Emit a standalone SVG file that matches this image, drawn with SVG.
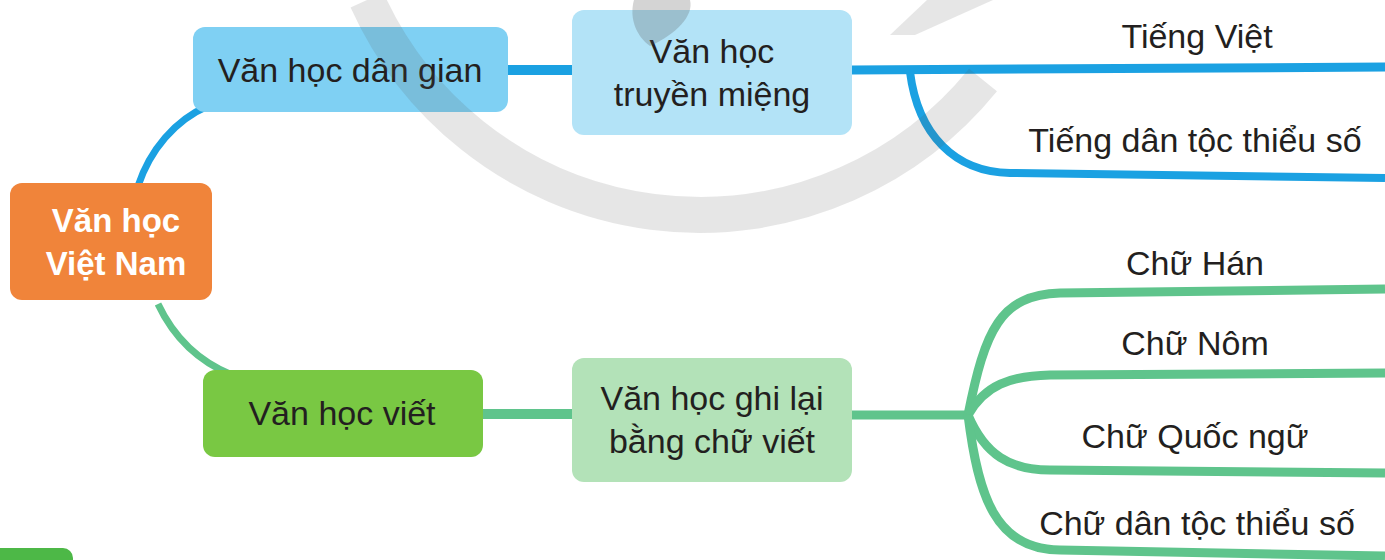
<svg xmlns="http://www.w3.org/2000/svg" width="1385" height="560" viewBox="0 0 1385 560">
<style>
.t{font-family:"Liberation Sans",Arial,sans-serif;font-size:34px;fill:#231f20;text-anchor:middle}
.root{font-family:"Liberation Sans",Arial,sans-serif;font-size:33px;font-weight:bold;fill:#ffffff;text-anchor:middle}
.b{fill:none;stroke:#1ba1e2;stroke-linecap:butt}
.g{fill:none;stroke:#5fc48c;stroke-linecap:butt}
</style>
<rect width="1385" height="560" fill="#ffffff"/>
<g id="connectors">
<path class="b" stroke-width="7" d="M138,186 C150,150 175,120 208,106"/>
<path class="b" stroke-width="10" d="M508,70 L572,70"/>
<path class="b" stroke-width="9" d="M852,70 L1385,67"/>
<path class="b" stroke-width="8" d="M910,72 C918,135 955,172 1010,173 L1385,178"/>
<path class="g" stroke-width="7" d="M158,304 C175,340 200,362 232,375"/>
<path class="g" stroke-width="10" d="M483,414 L572,414"/>
<path class="g" stroke-width="9" d="M852,415 L968,415"/>
<path class="g" stroke-width="9" d="M968,415 C985,330 1000,295 1060,293 L1385,289"/>
<path class="g" stroke-width="9" d="M968,415 C985,385 1010,376 1050,375 L1385,373"/>
<path class="g" stroke-width="9" d="M968,415 C985,455 1010,470 1050,470 L1385,473"/>
<path class="g" stroke-width="9" d="M968,415 C978,495 995,550 1060,550 L1385,556"/>
</g>
<g id="root">
<rect x="10" y="183" width="202" height="117" rx="12" fill="#f0843a"/>
<text class="root" x="116" y="232">Văn học</text>
<text class="root" x="116" y="275">Việt Nam</text>
</g>
<g id="dan-gian">
<rect x="193" y="27" width="315" height="85" rx="12" fill="#7fd0f3"/>
<text class="t" x="350" y="82">Văn học dân gian</text>
</g>
<g id="truyen-mieng">
<rect x="572" y="10" width="280" height="125" rx="12" fill="#b3e3f7"/>
<text class="t" x="712" y="63">Văn học</text>
<text class="t" x="712" y="106">truyền miệng</text>
</g>
<g id="tieng-viet"><text class="t" x="1197" y="48">Tiếng Việt</text></g>
<g id="tieng-dan-toc"><text class="t" x="1195" y="152">Tiếng dân tộc thiểu số</text></g>
<g id="viet">
<rect x="203" y="370" width="280" height="87" rx="12" fill="#79c843"/>
<text class="t" x="342" y="425">Văn học viết</text>
</g>
<g id="ghi-lai">
<rect x="572" y="358" width="280" height="124" rx="12" fill="#b3e2b8"/>
<text class="t" x="712" y="410">Văn học ghi lại</text>
<text class="t" x="712" y="453">bằng chữ viết</text>
</g>
<g id="chu-han"><text class="t" x="1195" y="275">Chữ Hán</text></g>
<g id="chu-nom"><text class="t" x="1195" y="355">Chữ Nôm</text></g>
<g id="chu-quoc-ngu"><text class="t" x="1195" y="448">Chữ Quốc ngữ</text></g>
<g id="chu-dan-toc"><text class="t" x="1197" y="535">Chữ dân tộc thiểu số</text></g>
<g id="partial">
<rect x="-12" y="548" width="85" height="30" rx="10" fill="#4db847"/>
</g>
<g id="watermark">
<path d="M367,0 A365,365 0 0 0 983,80" fill="none" stroke="#555555" stroke-width="36" opacity="0.15"/>
<polygon points="890,35 915,35 993,0 927,0" fill="#555555" opacity="0.15"/>
<path d="M650,46 C636,36 629,18 634,0 L690,0 C694,16 676,34 650,46 Z" fill="#555555" opacity="0.25"/>
</g>
</svg>
